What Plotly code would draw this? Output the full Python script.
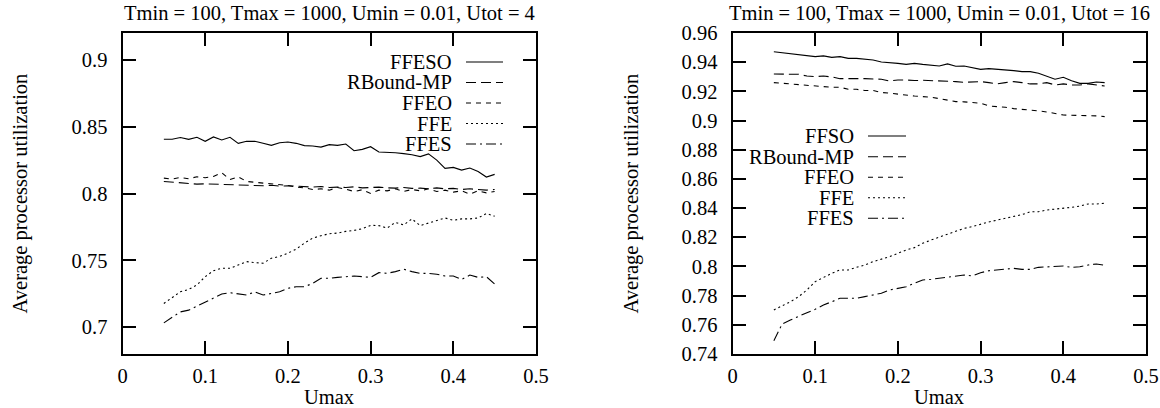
import plotly.graph_objects as go

umax = [0.05, 0.06, 0.07, 0.08, 0.09, 0.10, 0.11, 0.12, 0.13, 0.14,
        0.15, 0.16, 0.17, 0.18, 0.19, 0.20, 0.21, 0.22, 0.23, 0.24,
        0.25, 0.26, 0.27, 0.28, 0.29, 0.30, 0.31, 0.32, 0.33, 0.34,
        0.35, 0.36, 0.37, 0.38, 0.39, 0.40, 0.41, 0.42, 0.43, 0.44, 0.45]

# Left panel (Utot = 4)
l_ffeso = [0.8406, 0.8406, 0.8419, 0.8405, 0.8420, 0.8390, 0.8423, 0.8400, 0.8420, 0.8375,
           0.8390, 0.8390, 0.8375, 0.8360, 0.8380, 0.8385, 0.8375, 0.8358, 0.8355, 0.8347,
           0.8365, 0.8360, 0.8370, 0.8320, 0.8330, 0.8350, 0.8310, 0.8308, 0.8305, 0.8298,
           0.8290, 0.8276, 0.8296, 0.8250, 0.8188, 0.8195, 0.8175, 0.8190, 0.8165, 0.8123, 0.8143]
l_rbound = [0.8090, 0.8085, 0.8080, 0.8075, 0.8070, 0.8072, 0.8070, 0.8065, 0.8062, 0.8060,
            0.8062, 0.8060, 0.8058, 0.8062, 0.8055, 0.8058, 0.8055, 0.8050, 0.8048, 0.8052,
            0.8045, 0.8048, 0.8045, 0.8050, 0.8042, 0.8045, 0.8048, 0.8042, 0.8040, 0.8045,
            0.8038, 0.8040, 0.8035, 0.8042, 0.8035, 0.8038, 0.8030, 0.8035, 0.8028, 0.8025, 0.8030]
l_ffeo = [0.8115, 0.8108, 0.8120, 0.8110, 0.8125, 0.8118, 0.8128, 0.8155, 0.8105, 0.8125,
          0.8090, 0.8085, 0.8075, 0.8070, 0.8065, 0.8060, 0.8048, 0.8042, 0.8030, 0.8035,
          0.8025, 0.8045, 0.8032, 0.8015, 0.8028, 0.8000, 0.8025, 0.8020, 0.8035, 0.8015,
          0.8030, 0.8020, 0.8035, 0.8015, 0.8025, 0.8010, 0.8020, 0.7995, 0.8020, 0.8005, 0.8015]
l_ffe = [0.7178, 0.7223, 0.7265, 0.7283, 0.7316, 0.7378, 0.7423, 0.7441, 0.7441, 0.7466,
         0.7491, 0.7483, 0.7479, 0.7516, 0.7529, 0.7554, 0.7584, 0.7629, 0.7667, 0.7684,
         0.7699, 0.7704, 0.7717, 0.7724, 0.7737, 0.7762, 0.7760, 0.7742, 0.7784, 0.7765,
         0.7810, 0.7760, 0.7780, 0.7800, 0.7817, 0.7800, 0.7810, 0.7810, 0.7817, 0.7850, 0.7830]
l_ffes = [0.7033, 0.7073, 0.7115, 0.7128, 0.7158, 0.7183, 0.7216, 0.7248, 0.7258, 0.7248,
          0.7241, 0.7265, 0.7241, 0.7253, 0.7265, 0.7291, 0.7303, 0.7303, 0.7328, 0.7366,
          0.7366, 0.7373, 0.7378, 0.7383, 0.7378, 0.7373, 0.7408, 0.7403, 0.7416, 0.7434,
          0.7416, 0.7403, 0.7403, 0.7396, 0.7383, 0.7383, 0.7358, 0.7390, 0.7373, 0.7378, 0.7323]

# Right panel (Utot = 16)
r_ffso = [0.9472, 0.9465, 0.9456, 0.9452, 0.9445, 0.9438, 0.9443, 0.9433, 0.9438, 0.9426,
          0.9426, 0.9422, 0.9415, 0.9401, 0.9399, 0.9392, 0.9385, 0.9392, 0.9385, 0.9381,
          0.9374, 0.9388, 0.9372, 0.9374, 0.9362, 0.9351, 0.9356, 0.9353, 0.9349, 0.9342,
          0.9335, 0.9335, 0.9324, 0.9305, 0.9283, 0.9297, 0.9273, 0.9255, 0.9255, 0.9264, 0.9260]
r_rbound = [0.9319, 0.9319, 0.9316, 0.9317, 0.9305, 0.9301, 0.9305, 0.9299, 0.9287, 0.9285,
            0.9287, 0.9287, 0.9285, 0.9283, 0.9271, 0.9278, 0.9278, 0.9274, 0.9276, 0.9274,
            0.9274, 0.9271, 0.9267, 0.9262, 0.9262, 0.9267, 0.9260, 0.9251, 0.9260, 0.9267,
            0.9260, 0.9251, 0.9251, 0.9260, 0.9244, 0.9251, 0.9244, 0.9244, 0.9251, 0.9244, 0.9237]
r_ffeo = [0.9260, 0.9255, 0.9251, 0.9244, 0.9240, 0.9237, 0.9232, 0.9228, 0.9228, 0.9214,
          0.9214, 0.9206, 0.9206, 0.9192, 0.9188, 0.9180, 0.9176, 0.9168, 0.9164, 0.9160,
          0.9150, 0.9141, 0.9130, 0.9128, 0.9123, 0.9119, 0.9100, 0.9096, 0.9091, 0.9082,
          0.9078, 0.9072, 0.9066, 0.9059, 0.9050, 0.9038, 0.9036, 0.9036, 0.9032, 0.9032, 0.9027]
r_ffe = [0.7702, 0.7729, 0.7758, 0.7793, 0.7839, 0.7896, 0.7925, 0.7953, 0.7976, 0.7976,
         0.7994, 0.8010, 0.8033, 0.8049, 0.8067, 0.8090, 0.8113, 0.8129, 0.8159, 0.8181,
         0.8200, 0.8220, 0.8238, 0.8261, 0.8273, 0.8291, 0.8305, 0.8318, 0.8332, 0.8346,
         0.8355, 0.8375, 0.8375, 0.8387, 0.8392, 0.8401, 0.8405, 0.8414, 0.8428, 0.8428, 0.8433]
r_ffes = [0.7491, 0.7606, 0.7633, 0.7660, 0.7683, 0.7706, 0.7736, 0.7758, 0.7782, 0.7782,
          0.7782, 0.7793, 0.7804, 0.7816, 0.7839, 0.7850, 0.7861, 0.7885, 0.7907, 0.7912,
          0.7919, 0.7926, 0.7937, 0.7941, 0.7935, 0.7957, 0.7971, 0.7976, 0.7980, 0.7987,
          0.7980, 0.7980, 0.7994, 0.7998, 0.7998, 0.8003, 0.7994, 0.7998, 0.8010, 0.8017, 0.8008]

left_names = ["FFESO", "RBound-MP", "FFEO", "FFE", "FFES"]
right_names = ["FFSO", "RBound-MP", "FFEO", "FFE", "FFES"]
left_series = [l_ffeso, l_rbound, l_ffeo, l_ffe, l_ffes]
right_series = [r_ffso, r_rbound, r_ffeo, r_ffe, r_ffes]
dashes = ["solid", "10px,5px", "5px,5px", "2px,3px", "10px,4px,2px,4px"]

left_title = "Tmin = 100, Tmax = 1000, Umin = 0.01, Utot = 4"
right_title = "Tmin = 100, Tmax = 1000, Umin = 0.01, Utot = 16"
x_title = "Umax"
y_title = "Average processor utilization"

W, H = 1160, 408
FONT = "Liberation Serif, Times New Roman, serif"
FS = 20.5

L_X0, L_X1 = 122.5, 536.0
R_X0, R_X1 = 732.5, 1146.0
Y_TOP, Y_BOT = 33.0, 354.0

def px(x):
    return x / W

def py(y):
    return 1 - y / H

fig = go.Figure()

for name, ys, d in zip(left_names, left_series, dashes):
    fig.add_trace(go.Scatter(x=umax, y=ys, mode="lines", name=name, showlegend=False,
                             line=dict(color="black", width=1.1, dash=d),
                             xaxis="x", yaxis="y"))
for name, ys, d in zip(right_names, right_series, dashes):
    fig.add_trace(go.Scatter(x=umax, y=ys, mode="lines", name=name, showlegend=False,
                             line=dict(color="black", width=1.1, dash=d),
                             xaxis="x2", yaxis="y2"))

axis_common = dict(showline=True, linecolor="black", linewidth=2, mirror="ticks",
                   ticks="inside", ticklen=13, tickwidth=2, tickcolor="black",
                   showgrid=False, zeroline=False, automargin=False,
                   tickfont=dict(family=FONT, size=FS, color="black"))

fig.update_layout(
    width=W, height=H, autosize=False,
    margin=dict(l=0, r=0, t=0, b=0, pad=0, autoexpand=False),
    showlegend=False,
    paper_bgcolor="white", plot_bgcolor="white",
    font=dict(family=FONT, size=FS, color="black"),
    xaxis=dict(domain=[px(L_X0), px(L_X1)], range=[0, 0.5], tickvals=[0, 0.1, 0.2, 0.3, 0.4, 0.5],
               ticktext=["0", "0.1", "0.2", "0.3", "0.4", "0.5"], anchor="y", ticklabelstandoff=2,
               **axis_common),
    yaxis=dict(domain=[py(Y_BOT), py(Y_TOP)], range=[0.68, 0.92],
               tickvals=[0.7, 0.75, 0.8, 0.85, 0.9], ticktext=["0.7", "0.75", "0.8", "0.85", "0.9"],
               anchor="x", ticklabelstandoff=9, **axis_common),
    xaxis2=dict(domain=[px(R_X0), px(R_X1)], range=[0, 0.5], tickvals=[0, 0.1, 0.2, 0.3, 0.4, 0.5],
                ticktext=["0", "0.1", "0.2", "0.3", "0.4", "0.5"], anchor="y2", ticklabelstandoff=2,
                **axis_common),
    yaxis2=dict(domain=[py(Y_BOT), py(Y_TOP)], range=[0.74, 0.96],
                tickvals=[0.74, 0.76, 0.78, 0.8, 0.82, 0.84, 0.86, 0.88, 0.9, 0.92, 0.94, 0.96],
                ticktext=["0.74", "0.76", "0.78", "0.8", "0.82", "0.84", "0.86", "0.88", "0.9",
                          "0.92", "0.94", "0.96"],
                anchor="x2", ticklabelstandoff=9, **axis_common),
)

ann = []
shapes = []
for x0, x1, t in [(L_X0, L_X1, left_title), (R_X0, R_X1, right_title)]:
    xc = px((x0 + x1) / 2)
    ann.append(dict(x=xc, y=py(13), xref="paper", yref="paper", text=t, showarrow=False,
                    xanchor="center", yanchor="middle", font=dict(family=FONT, size=FS)))
    ann.append(dict(x=xc, y=py(397), xref="paper", yref="paper", text=x_title, showarrow=False,
                    xanchor="center", yanchor="middle", font=dict(family=FONT, size=FS)))
for xc in [20, 631]:
    ann.append(dict(x=px(xc), y=py((Y_TOP + Y_BOT) / 2), xref="paper", yref="paper",
                    text=y_title, showarrow=False, textangle=-90,
                    xanchor="center", yanchor="middle", font=dict(family=FONT, size=FS)))

# gnuplot-style keys: right-aligned text, sample line on the right
def key(names, text_right, s0, s1, rows):
    for name, d, yr in zip(names, dashes, rows):
        ann.append(dict(x=px(text_right), y=py(yr), xref="paper", yref="paper", text=name,
                        showarrow=False, xanchor="right", yanchor="middle",
                        font=dict(family=FONT, size=FS)))
        shapes.append(dict(type="line", xref="paper", yref="paper",
                           x0=px(s0), x1=px(s1), y0=py(yr), y1=py(yr),
                           line=dict(color="black", width=1.1, dash=d)))

key(left_names, 454, 466, 503, [62, 82.5, 103, 123.5, 144])
key(right_names, 856, 868, 906, [136, 156.7, 177.3, 197.7, 218.3])

fig.update_layout(annotations=ann, shapes=shapes)

fig.write_html("out.html")
